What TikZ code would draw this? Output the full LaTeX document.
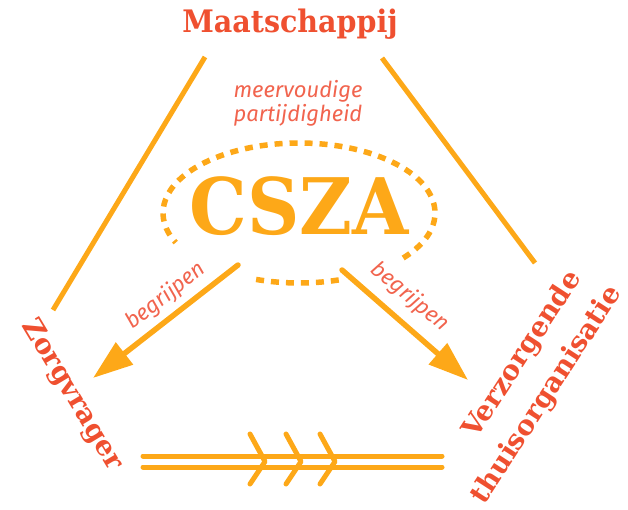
\documentclass[tikz,border=0pt]{standalone}
\usepackage{fontspec}
\usetikzlibrary{arrows.meta}
\newfontfamily\slabfont{DejaVu Serif}
\newfontfamily\labfont{Fira Sans}
\definecolor{csorange}{RGB}{253,168,24}
\definecolor{csred}{RGB}{239,80,48}
\definecolor{cslab}{RGB}{241,100,78}
\tikzset{
  sideline/.style={draw=csorange, line width=5pt},
  understand/.style={draw=csorange, line width=5.5pt, line cap=round, -{Triangle[length=40pt,width=27pt]}},
  dotring/.style={draw=csorange, line width=5.5pt, dash pattern=on 8pt off 7pt},
  rail/.style={draw=csorange, line width=5pt, line cap=round},
  chev/.style={draw=csorange, line width=5pt, line cap=round, line join=round},
  actor/.style={text=csred, inner sep=0pt, font=\slabfont\bfseries\fontsize{27.5}{32}\selectfont},
  label/.style={text=cslab, inner sep=0pt, align=center, font=\labfont\itshape\fontsize{22}{24}\selectfont},
  bigname/.style={text=csorange, inner sep=0pt, font=\slabfont\bfseries\fontsize{78}{80}\selectfont}
}
\begin{document}
\begin{tikzpicture}[x=1pt,y=-1pt]
\useasboundingbox (0,0) rectangle (628,510);
% texts
\node[actor, xscale=0.92, font=\slabfont\bfseries\fontsize{31}{34}\selectfont] (maat) at (290,24) {Maatschappij};
\node[label] (meer) at (298,103) {meervoudige\\partijdigheid};
\node[bigname, xscale=0.93] (csza) at (299,206.5) {CSZA};
\node[label, rotate=38] (begl) at (166,296) {begrijpen};
\node[label, rotate=-40] (begr) at (410,297) {begrijpen};
\node[actor, rotate=-59] (zorg) at (72,395) {Zorgvrager};
\node[actor, rotate=57] (verz) at (523,355) {Verzorgende};
\node[actor, rotate=57] (thuis) at (547,395) {thuisorganisatie};
% side lines
\coordinate (la) at (205,57);
\coordinate (lb) at (53,310);
\coordinate (ra) at (382,58);
\coordinate (rb) at (535,263);
\draw[sideline] (la) -- (lb);
\draw[sideline] (ra) -- (rb);
% dotted ellipse
\coordinate (ringstart) at ({299+136*cos(40)},{213+70*sin(40)});
\coordinate (ringlow) at ({299+136*cos(73)},{213+70*sin(73)});
\draw[dotring] (ringstart) arc[start angle=40, end angle=-205, x radius=136, y radius=70];
\draw[dotring] (ringlow) arc[start angle=73, end angle=111, x radius=136, y radius=70];
% arrows
\coordinate (al0) at (238,265);
\coordinate (al1) at (93,378);
\coordinate (ar0) at (342,270);
\coordinate (ar1) at (468,380);
\draw[understand] (al0) -- (al1);
\draw[understand] (ar0) -- (ar1);
% rails
\coordinate (r1a) at (143,456);
\coordinate (r1b) at (442,456);
\coordinate (r2a) at (143,467);
\coordinate (r2b) at (442,467);
\draw[rail] (r1a) -- (r1b);
\draw[rail] (r2a) -- (r2b);
\foreach \t in {265,301,335}{
  \draw[chev] (\t-15,434) -- (\t,461.5) -- (\t-15,484);
}
\end{tikzpicture}
\end{document}
